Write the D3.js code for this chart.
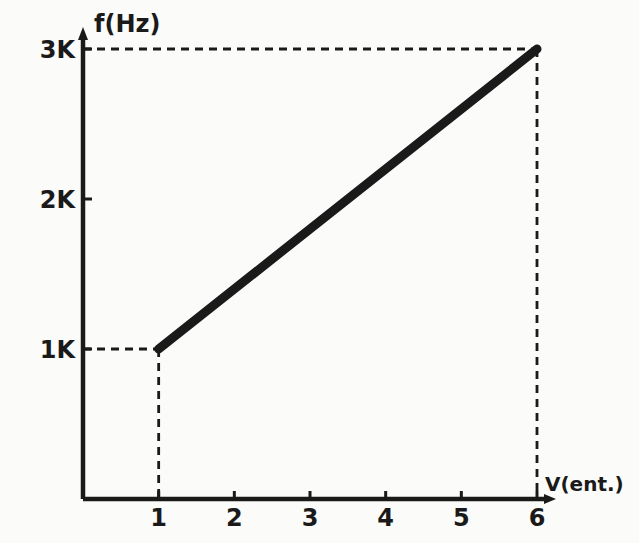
<!DOCTYPE html>
<html><head><meta charset="utf-8">
<script src="https://cdn.jsdelivr.net/npm/d3@7"></script>
<style>body{margin:0;background:#fbfbfa}svg{display:block}</style>
</head><body>
<svg id="c" width="639" height="543"></svg>
<script>
const xTicks = [1, 2, 3, 4, 5, 6];
const yTicks = [1000, 2000, 3000];
const yTickLabels = ["1K", "2K", "3K"];
const lineV = [1, 6];
const lineF = [1000, 3000];
const xTitle = "V(ent.)";
const yTitle = "f(Hz)";

const svg = d3.select("#c");
const x = d3.scaleLinear().domain([0, 6]).range([83, 537]);
const y = d3.scaleLinear().domain([0, 3000]).range([499, 49]);
const ink = "#1a1a1a";
const font = "'DejaVu Sans', sans-serif";

svg.append("rect").attr("width", 639).attr("height", 543).attr("fill", "#fbfbfa");

// dashed guides
const pts = lineV.map((v, i) => [v, lineF[i]]);
pts.forEach(([v, f]) => {
  svg.append("line").attr("x1", x(0)).attr("x2", x(v)).attr("y1", y(f)).attr("y2", y(f))
    .attr("stroke", ink).attr("stroke-width", 2.8).attr("stroke-dasharray", "8,6");
  svg.append("line").attr("x1", x(v)).attr("x2", x(v)).attr("y1", y(f)).attr("y2", y(0))
    .attr("stroke", ink).attr("stroke-width", 2.8).attr("stroke-dasharray", "8,6");
});

// axes
svg.append("line").attr("x1", x(0)).attr("x2", 548).attr("y1", y(0)).attr("y2", y(0))
  .attr("stroke", ink).attr("stroke-width", 4.5);
svg.append("line").attr("x1", x(0)).attr("x2", x(0)).attr("y1", y(0)).attr("y2", 36)
  .attr("stroke", ink).attr("stroke-width", 4.5);
// arrows
svg.append("path").attr("d", `M556,${y(0)} L544,${y(0)-5} L544,${y(0)+5} Z`).attr("fill", ink);
svg.append("path").attr("d", `M${x(0)},27 L${x(0)-5},40 L${x(0)+5},40 Z`).attr("fill", ink);

// x ticks
const xa = svg.append("g");
xTicks.forEach(t => {
  xa.append("line").attr("x1", x(t)).attr("x2", x(t)).attr("y1", y(0)).attr("y2", y(0) - 8)
    .attr("stroke", ink).attr("stroke-width", 3);
  xa.append("text").attr("x", x(t)).attr("y", y(0) + 27).attr("text-anchor", "middle")
    .attr("font-family", font).attr("font-weight", "bold").attr("font-size", 24).attr("fill", ink).text(t);
});
// y ticks (pointing inward)
yTicks.forEach((t, i) => {
  svg.append("line").attr("x1", x(0)).attr("x2", x(0) + 9).attr("y1", y(t)).attr("y2", y(t))
    .attr("stroke", ink).attr("stroke-width", 3);
  svg.append("text").attr("x", x(0) - 8).attr("y", y(t) + 9).attr("text-anchor", "end")
    .attr("font-family", font).attr("font-weight", "bold").attr("font-size", 24).attr("fill", ink).text(yTickLabels[i]);
});

// main line
svg.append("path").datum(pts)
  .attr("d", d3.line().x(d => x(d[0])).y(d => y(d[1])))
  .attr("stroke", ink).attr("stroke-width", 9).attr("stroke-linecap", "round").attr("fill", "none");

// titles
svg.append("text").attr("x", 94).attr("y", 32).attr("font-family", font).attr("font-weight", "bold")
  .attr("font-size", 24).attr("fill", ink).text(yTitle);
svg.append("text").attr("x", 545).attr("y", 491).attr("font-family", font).attr("font-weight", "bold")
  .attr("font-size", 20).attr("fill", ink).text(xTitle);
</script>
</body></html>
